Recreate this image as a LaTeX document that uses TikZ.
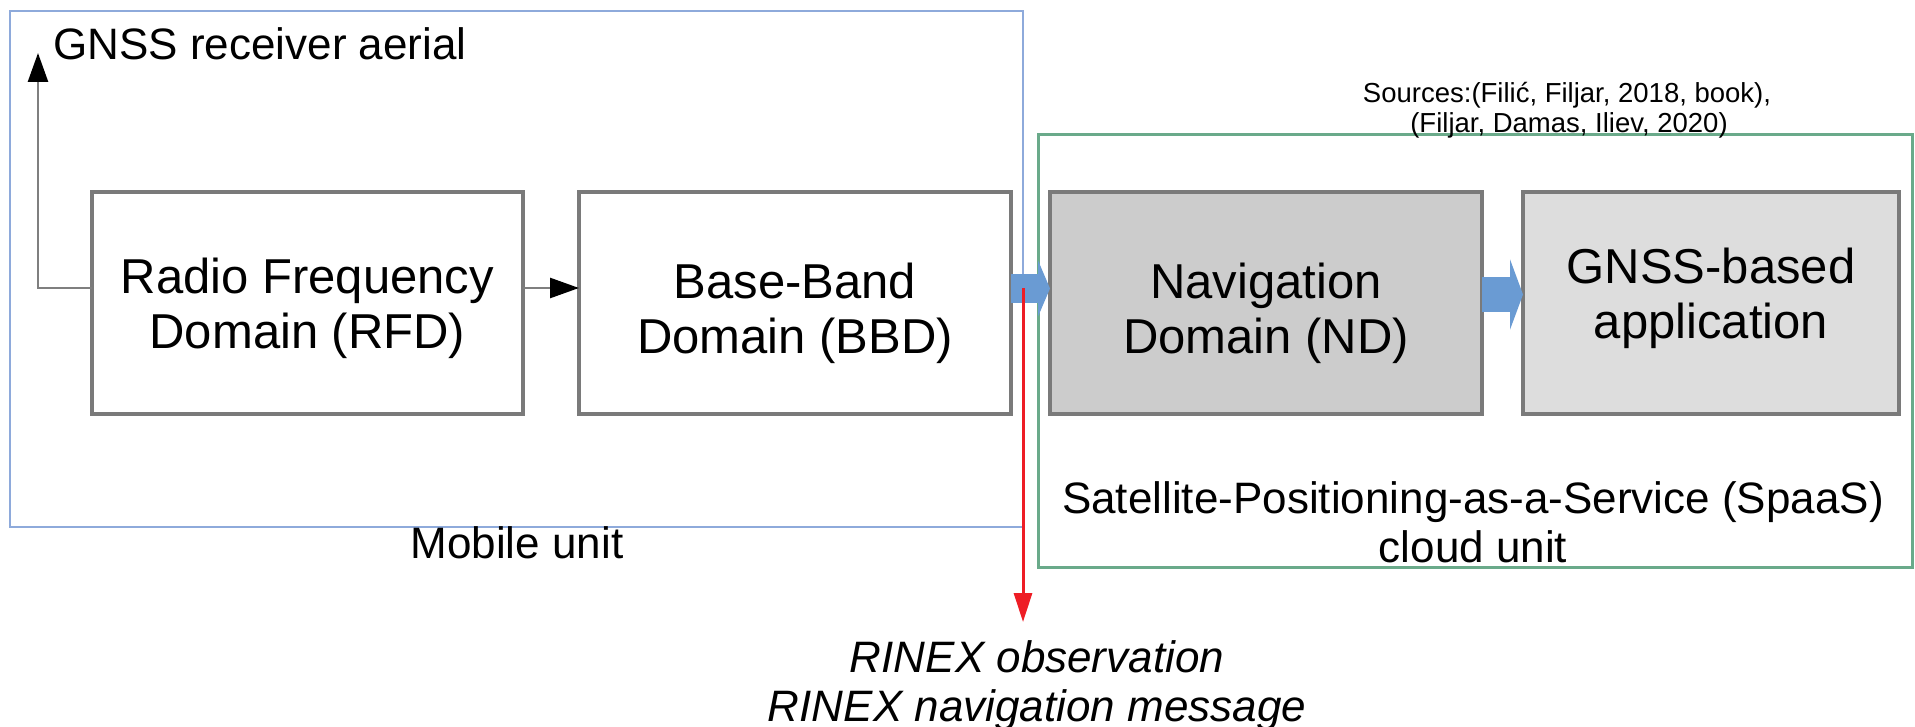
\documentclass[tikz,border=0pt]{standalone}
\usepackage{fontspec}
\setmainfont{Liberation Sans}
\usetikzlibrary{arrows.meta}
\definecolor{mobblue}{HTML}{8EAADB}
\definecolor{cloudgreen}{HTML}{6AAA8A}
\definecolor{boxgray}{HTML}{7A7A7A}
\definecolor{ndfill}{HTML}{CCCCCC}
\definecolor{appfill}{HTML}{DDDDDD}
\definecolor{flowblue}{HTML}{6A9BD3}
\definecolor{rinexred}{HTML}{EE1D25}
\definecolor{linkgray}{HTML}{7F7F7F}
\begin{document}
\begin{tikzpicture}[x=0.5pt,y=-0.5pt,
  domainbox/.style={draw=boxgray, line width=1.6pt, minimum width=#1, minimum height=111pt, inner sep=0pt, outer sep=0pt},
  unitbox/.style={line width=1.4pt, inner sep=0pt, outer sep=0pt},
  boxtext/.style={anchor=base, inner sep=0pt, font=\fontsize{24.5pt}{27.5pt}\selectfont},
  labeltext/.style={anchor=base, inner sep=0pt, font=\fontsize{22pt}{25pt}\selectfont},
  sourcetext/.style={anchor=base, inner sep=0pt, font=\fontsize{13.75pt}{15pt}\selectfont},
  link/.style={draw=linkgray, line width=1.3pt, -{Triangle[length=14.5pt,width=10pt,color=black]}},
  flow/.style={draw=flowblue, line width=14.5pt, -{Triangle[length=6pt,width=28pt]}},
  rinexarrow/.style={draw=rinexred, line width=1.5pt, -{Triangle[length=14.5pt,width=9pt]}}
]
\useasboundingbox (0,0) rectangle (1915,727);

% container units
\node[unitbox, draw=mobblue, minimum width=506.5pt, minimum height=258pt] (mobile) at (516.5,269) {};
\node[unitbox, draw=cloudgreen, line width=1.5pt, minimum width=437pt, minimum height=216pt] (cloud) at (1475,351) {};

% domain boxes
\node[domainbox=215.5pt, fill=white] (rfd) at (307.5,303) {};
\node[domainbox=216pt, fill=white] (bbd) at (795,303) {};
\node[domainbox=216pt, fill=ndfill] (nd) at (1266,303) {};
\node[domainbox=188pt, fill=appfill] (app) at (1711,303) {};

% box texts
\node[boxtext] (rfdA) at (307.5,293) {Radio Frequency};
\node[boxtext] (rfdB) at (307.5,348) {Domain (RFD)};
\node[boxtext] (bbdA) at (795,298) {Base-Band};
\node[boxtext] (bbdB) at (795,353) {Domain (BBD)};
\node[boxtext] (ndA) at (1266,298) {Navigation};
\node[boxtext] (ndB) at (1266,353) {Domain (ND)};
\node[boxtext] (appA) at (1711,284) {GNSS-based};
\node[boxtext] (appB) at (1711,338) {application};

% labels
\node[labeltext, anchor=base west] (aeriallabel) at (53,60) {GNSS receiver aerial};
\node[labeltext] (mobilelabel) at (517,558) {Mobile unit};
\node[labeltext] (cloudA) at (1473,513) {Satellite-Positioning-as-a-Service (SpaaS)};
\node[labeltext] (cloudB) at (1473,562) {cloud unit};
\node[sourcetext] (srcA) at (1567,103) {Sources:(Filić, Filjar, 2018, book),};
\node[sourcetext] (srcB) at (1569,133) {(Filjar, Damas, Iliev, 2020)};
\node[labeltext, font=\fontsize{22pt}{25pt}\selectfont\itshape] (rinexA) at (1037,672) {RINEX observation};
\node[labeltext, font=\fontsize{22pt}{25pt}\selectfont\itshape] (rinexB) at (1037,721) {RINEX navigation message};

% connectors
\coordinate (aerial) at (38,53);
\draw[link] ([yshift=7.5pt]rfd.west) -| (aerial);
\draw[link] ([yshift=7.5pt]rfd.east) -- ([yshift=7.5pt]bbd.west);
\draw[flow] ([yshift=7.25pt]bbd.east) -- ([yshift=7.25pt]nd.west);
\draw[flow, line width=17.5pt, -{Triangle[length=6.5pt,width=35pt]}] ([yshift=4.25pt]nd.east) -- ([yshift=4.25pt]app.west);
\coordinate (rinexsrc) at (1023,288);
\coordinate (rinexend) at (1023,622);
\draw[rinexarrow] (rinexsrc) -- (rinexend);
\end{tikzpicture}
\end{document}
